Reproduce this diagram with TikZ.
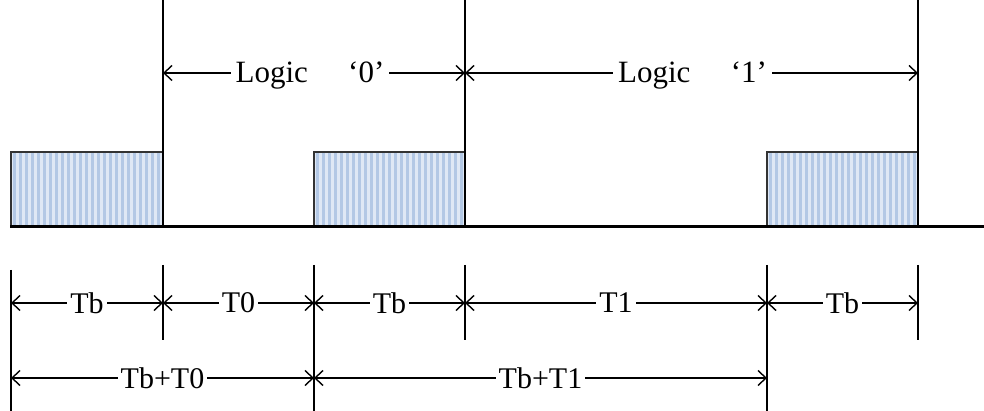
\documentclass[tikz,border=0pt]{standalone}
\usepackage{fontspec}
\setmainfont{Liberation Serif}
\usetikzlibrary{arrows.meta}
\definecolor{stripeA}{HTML}{DFE8F5}
\definecolor{stripeB}{HTML}{B3C8E5}
\tikzset{
  dimline/.style={line width=1.4pt, {Straight Barb[length=8pt,width=15pt,line width=1.4pt]}-{Straight Barb[length=8pt,width=15pt,line width=1.4pt]}},
  toplabel/.style={fill=white, inner xsep=5pt, inner ysep=2pt, font=\fontsize{31}{33}\selectfont},
  botlabel/.style={fill=white, inner xsep=3pt, inner ysep=2pt, font=\fontsize{30}{32}\selectfont},
  tick/.style={line width=1.8pt},
  sig/.style={line width=3pt},
  pulse/.style={draw=black!80, line width=1.2pt},
}
\newcommand{\stripebox}[2]{%
  \fill[stripeA] (#1,152) rectangle (#2,227);
  \foreach \sx in {0,6,...,146} {\fill[stripeB] ({#1+\sx+1.5},152) rectangle ({#1+\sx+5},227);}
  \draw[pulse] (#1,227) -- (#1,152) -- (#2,152) -- (#2,227);
}
\begin{document}
\begin{tikzpicture}[x=1pt,y=-1pt]
\useasboundingbox (0,0) rectangle (984,411);
% pulses
\stripebox{11}{163}
\stripebox{314}{465}
\stripebox{767}{918}
% baseline
\draw[sig] (10,227) -- (984,227);
% tall verticals
\coordinate (v1t) at (163,0); \coordinate (v1b) at (163,227);
\coordinate (v2t) at (465,0); \coordinate (v2b) at (465,227);
\coordinate (v3t) at (918,0); \coordinate (v3b) at (918,227);
\draw[tick] (v1t) -- (v1b);
\draw[tick] (v2t) -- (v2b);
\draw[tick] (v3t) -- (v3b);
% top dimensions
\coordinate (a1) at (163,73);
\coordinate (a2) at (465,73);
\coordinate (a3) at (918,73);
\draw[dimline] (a1) -- node[toplabel, xshift=-4pt, yshift=-3pt] (l0) {Logic\hspace{1.3em}‘0’\hspace{0.3em}} (a2);
\draw[dimline] (a2) -- node[toplabel, xshift=1pt, yshift=-3pt] (l1) {Logic\hspace{1.3em}‘1’\hspace{0.3em}} (a3);
% bottom ticks
\coordinate (b0t) at (11,270);  \coordinate (b0b) at (11,411);
\coordinate (b1t) at (163,265); \coordinate (b1b) at (163,340);
\coordinate (b2t) at (314,265); \coordinate (b2b) at (314,411);
\coordinate (b3t) at (465,265); \coordinate (b3b) at (465,340);
\coordinate (b4t) at (767,265); \coordinate (b4b) at (767,411);
\coordinate (b5t) at (918,265); \coordinate (b5b) at (918,340);
\foreach \k in {0,...,5} {\draw[tick] (b\k t) -- (b\k b);}
% row 1
\coordinate (r0) at (11,303);
\coordinate (r1) at (163,303);
\coordinate (r2) at (314,303);
\coordinate (r3) at (465,303);
\coordinate (r4) at (767,303);
\coordinate (r5) at (918,303);
\draw[dimline] (r0) -- node[botlabel] (tb1) {Tb} (r1);
\draw[dimline] (r1) -- node[botlabel] (t0) {T0} (r2);
\draw[dimline] (r2) -- node[botlabel] (tb2) {Tb} (r3);
\draw[dimline] (r3) -- node[botlabel] (t1) {T1} (r4);
\draw[dimline] (r4) -- node[botlabel] (tb3) {Tb} (r5);
% row 2
\coordinate (s0) at (11,378);
\coordinate (s2) at (314,378);
\coordinate (s4) at (767,378);
\draw[dimline] (s0) -- node[botlabel] (tbt0) {Tb+T0} (s2);
\draw[dimline] (s2) -- node[botlabel] (tbt1) {Tb+T1} (s4);
\end{tikzpicture}
\end{document}
